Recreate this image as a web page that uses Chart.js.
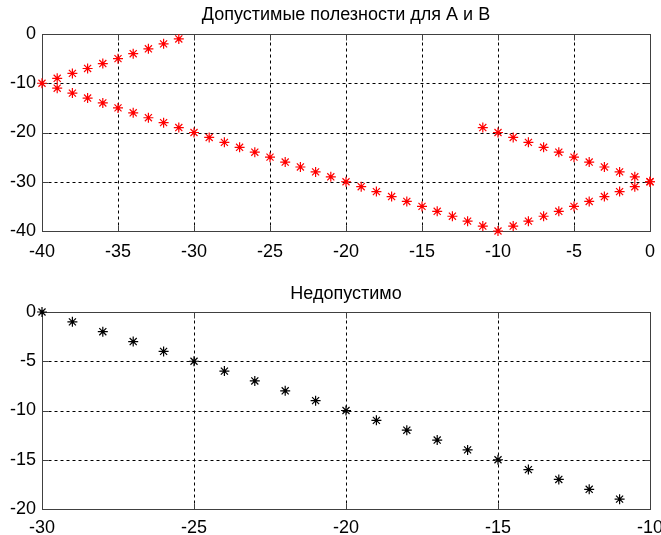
<!DOCTYPE html>
<html>
<head>
<meta charset="utf-8">
<script src="https://cdn.jsdelivr.net/npm/chart.js@4/dist/chart.umd.min.js"></script>
<style>
  html, body { margin: 0; padding: 0; background: #fff; }
  #wrap { position: relative; width: 661px; height: 535px; }
  canvas { position: absolute; left: 0; }
  #c1 { top: 0; }
  #c2 { top: 265px; }
  .ttl { position: absolute; left: 42px; width: 608px; text-align: center;
         font: 18px Arial, "Liberation Sans", sans-serif; line-height: 22px; color: #000; }
  #t1 { top: 3px; }
  #t2 { top: 282px; }
</style>
</head>
<body>
<div id="wrap">
  <canvas id="c1" width="661" height="265"></canvas>
  <canvas id="c2" width="661" height="270"></canvas>
  <div class="ttl" id="t1"></div>
  <div class="ttl" id="t2"></div>
</div>
<script>
// top plot: admissible utilities (three branches)
var upLeftX  = [-40, -39, -38, -37, -36, -35, -34, -33, -32, -31];
var upLeftY  = [-10, -9, -8, -7, -6, -5, -4, -3, -2, -1];
var lowX     = [-39, -38, -37, -36, -35, -34, -33, -32, -31, -30, -29, -28, -27, -26, -25, -24, -23, -22, -21, -20,
                -19, -18, -17, -16, -15, -14, -13, -12, -11, -10, -9, -8, -7, -6, -5, -4, -3, -2, -1, 0];
var lowY     = [-11, -12, -13, -14, -15, -16, -17, -18, -19, -20, -21, -22, -23, -24, -25, -26, -27, -28, -29, -30,
                -31, -32, -33, -34, -35, -36, -37, -38, -39, -40, -39, -38, -37, -36, -35, -34, -33, -32, -31, -30];
var upRightX = [-11, -10, -9, -8, -7, -6, -5, -4, -3, -2, -1, 0];
var upRightY = [-19, -20, -21, -22, -23, -24, -25, -26, -27, -28, -29, -30];

// bottom plot: inadmissible
var badX = [-30, -29, -28, -27, -26, -25, -24, -23, -22, -21, -20, -19, -18, -17, -16, -15, -14, -13, -12, -11];
var badY = [0, -1, -2, -3, -4, -5, -6, -7, -8, -9, -10, -11, -12, -13, -14, -15, -16, -17, -18, -19];

var TITLE1 = 'Допустимые полезности для А и В';
var TITLE2 = 'Недопустимо';

var FONT = 'Arial, "Liberation Sans", sans-serif';

document.getElementById('t1').textContent = TITLE1;
document.getElementById('t2').textContent = TITLE2;

function pts(xs, ys) {
  return xs.map(function(x, i){ return { x: x, y: ys[i] }; });
}

function starSet(xs, ys, col) {
  return { data: pts(xs, ys), pointStyle: 'star', pointRadius: 5, borderColor: col,
           backgroundColor: col, pointBorderWidth: 1.2, showLine: false, clip: false };
}
function dotSet(xs, ys, col) {
  return { data: pts(xs, ys), pointStyle: 'circle', pointRadius: 1.6, borderColor: col,
           backgroundColor: col, pointBorderWidth: 0, showLine: false, clip: false };
}

// dashed grid, solid box and inward ticks, matlab style
var boxPlugin = {
  id: 'box',
  beforeDatasetsDraw: function(chart) {
    var a = chart.chartArea, ctx = chart.ctx;
    var xs = chart.scales.x, ys = chart.scales.y;
    var L = Math.round(a.left) + 0.5, R = Math.round(a.right) + 0.5;
    var T = Math.round(a.top) + 0.5, B = Math.round(a.bottom) + 0.5;
    ctx.save();
    ctx.lineWidth = 1;
    ctx.strokeStyle = '#000';
    ctx.setLineDash([3, 3]);
    ctx.beginPath();
    xs.ticks.forEach(function(t) {
      if (t.value === xs.min || t.value === xs.max) return;
      var p = Math.round(xs.getPixelForValue(t.value)) + 0.5;
      ctx.moveTo(p, B); ctx.lineTo(p, T);
    });
    ys.ticks.forEach(function(t) {
      if (t.value === ys.min || t.value === ys.max) return;
      var p = Math.round(ys.getPixelForValue(t.value)) + 0.5;
      ctx.moveTo(L, p); ctx.lineTo(R, p);
    });
    ctx.stroke();

    ctx.setLineDash([]);
    ctx.strokeStyle = '#404040';
    ctx.strokeRect(L, T, R - L, B - T);
    ctx.beginPath();
    xs.ticks.forEach(function(t) {
      var p = Math.round(xs.getPixelForValue(t.value)) + 0.5;
      ctx.moveTo(p, B); ctx.lineTo(p, B - 6);
      ctx.moveTo(p, T); ctx.lineTo(p, T + 6);
    });
    ys.ticks.forEach(function(t) {
      var p = Math.round(ys.getPixelForValue(t.value)) + 0.5;
      ctx.moveTo(L, p); ctx.lineTo(L + 6, p);
      ctx.moveTo(R, p); ctx.lineTo(R - 6, p);
    });
    ctx.stroke();
    ctx.restore();
  }
};

function makeChart(id, datasets, padTop, xr, yr, xStep, yStep, xH, xPad) {
  return new Chart(document.getElementById(id), {
    type: 'scatter',
    data: { datasets: datasets },
    plugins: [boxPlugin],
    options: {
      responsive: false, animation: false, devicePixelRatio: 1,
      layout: { padding: { left: 0, right: 11, top: padTop, bottom: 0 } },
      plugins: {
        legend: { display: false },
        tooltip: { enabled: false },
        title: { display: false }
      },
      scales: {
        x: {
          type: 'linear', min: xr[0], max: xr[1],
          ticks: { stepSize: xStep, color: '#000', padding: xPad, maxRotation: 0,
                   font: { family: FONT, size: 18 } },
          grid: { display: false, drawTicks: false },
          border: { display: false },
          afterFit: function(s) { s.height = xH; s.paddingLeft = 0; s.paddingRight = 0; }
        },
        y: {
          type: 'linear', min: yr[0], max: yr[1],
          ticks: { stepSize: yStep, color: '#000', padding: 6,
                   font: { family: FONT, size: 18 } },
          grid: { display: false, drawTicks: false },
          border: { display: false },
          afterFit: function(s) { s.width = 42; s.paddingTop = 0; s.paddingBottom = 0; }
        }
      }
    }
  });
}

var red = '#ff0000';
makeChart('c1', [
  starSet(upLeftX, upLeftY, red), starSet(lowX, lowY, red), starSet(upRightX, upRightY, red),
  dotSet(upLeftX, upLeftY, red), dotSet(lowX, lowY, red), dotSet(upRightX, upRightY, red)
], 34, [-40, 0], [-40, 0], 5, 10, 34, 10);

makeChart('c2', [
  starSet(badX, badY, '#000'), dotSet(badX, badY, '#000')
], 47, [-30, -10], [-20, 0], 5, 5, 26, 8);
</script>
</body>
</html>
